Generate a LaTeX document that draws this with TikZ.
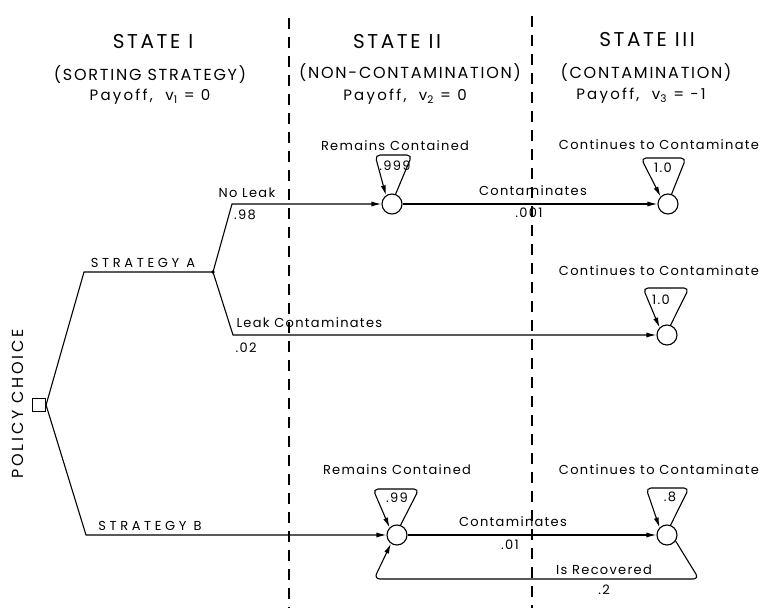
\documentclass[tikz,border=0pt]{standalone}
\usepackage{fontspec}
\setmainfont{Poppins}
\newfontfamily\lf[LetterSpace=10]{Poppins}
\newfontfamily\lfc[LetterSpace=28]{Poppins}
\newfontfamily\lfs[LetterSpace=13]{Poppins}
\newfontfamily\lfp[LetterSpace=11]{Poppins}
\newfontfamily\lfy[LetterSpace=15]{Poppins}
\newfontfamily\lfv[LetterSpace=17]{Poppins}
\usetikzlibrary{arrows.meta,calc}
\begin{document}
\begin{tikzpicture}[x=1pt,y=-1pt, line width=1.1pt,
  lbl/.style={font=\lf\fontsize{13}{15}\selectfont, inner sep=0pt},
  capl/.style={font=\lfc\fontsize{13}{15}\selectfont, inner sep=0pt},
  stt/.style={font=\lfs\fontsize{20}{22}\selectfont, inner sep=0pt},
  hdr/.style={font=\lfp\fontsize{16}{19}\selectfont, inner sep=0pt},
  pay/.style={font=\lfy\fontsize{15}{17}\selectfont, inner sep=0pt},
  vrt/.style={font=\lfv\fontsize{16}{19}\selectfont, inner sep=0pt},
  cnode/.style={circle, draw, minimum size=20pt, inner sep=0pt},
  arr/.style={-{Latex[length=10pt,width=5pt]}},
  sep/.style={dash pattern=on 11pt off 8pt, line width=1.6pt},
  lp/.style={rounded corners=5pt, arr}]
\useasboundingbox (0,0) rectangle (764,608);

% separators
\draw[sep] (289,18) -- (289,608);
\draw[sep] (532,16) -- (532,608);

% headers
\node[stt] (h1) at (153,42) {STATE I};
\node[hdr] (h1b) at (150,75) {(SORTING STRATEGY)};
\node[pay] (h1c) at (150,97) {Payoff,\ \ v\textsubscript{1} = 0};
\node[stt] (h2) at (397,42) {STATE II};
\node[hdr] (h2b) at (410,73) {(NON-CONTAMINATION)};
\node[pay] (h2c) at (405,97) {Payoff,\ \ v\textsubscript{2} = 0};
\node[stt] (h3) at (647,40) {STATE III};
\node[hdr] (h3b) at (646,73) {(CONTAMINATION)};
\node[pay] (h3c) at (641,96) {Payoff,\ \ v\textsubscript{3} = -1};

% decision and chance
\node[draw, minimum size=13pt, inner sep=0pt] (dec) at (39,405) {};
\node[vrt, rotate=90] (pc) at (18,404) {POLICY CHOICE};
\node[circle, fill, inner sep=1.4pt] (ch) at (213,272) {};

% state circles
\node[cnode] (c1) at (392,204) {};
\node[cnode] (c2) at (668,204) {};
\node[cnode] (c3) at (667,335) {};
\node[cnode] (c4) at (397,535) {};
\node[cnode] (c5) at (667,535) {};

% corners
\coordinate (ka) at (84,272);
\coordinate (kb) at (86,535);
\coordinate (kn) at (232,204);
\coordinate (kl) at (233,335);

% branches
\draw (dec.east) -- (ka) -- (ch.center);
\draw[arr] (dec.east) -- (kb) -- (c4.west);
\draw[arr] (ch.center) -- (kn) -- (c1.west);
\draw[arr] (ch.center) -- (kl) -- (c3.west);
\draw[arr] (c1.east) -- (c2.west);
\draw[arr] (c4.east) -- (c5.west);
\draw[rounded corners=6pt, arr] (c5.-35) -- (699,579) -- (374,579) -- (c4.-125);

% self loops
\draw[lp] (c1.70) -- ($(c1)+(20,-49)$) -- ($(c1)+(-17,-49)$) -- (c1.125);
\draw[lp] (c2.70) -- ($(c2)+(18,-46)$) -- ($(c2)+(-27,-46)$) -- (c2.135);
\draw[lp] (c3.70) -- ($(c3)+(22,-47)$) -- ($(c3)+(-24,-47)$) -- (c3.135);
\draw[lp] (c4.70) -- ($(c4)+(22,-46)$) -- ($(c4)+(-24,-46)$) -- (c4.135);
\draw[lp] (c5.70) -- ($(c5)+(22,-47)$) -- ($(c5)+(-21,-47)$) -- (c5.135);

% loop labels
\node[lbl] (p1) at (395,166) {.999};
\node[lbl] (p2) at (663,168) {1.0};
\node[lbl] (p3) at (661,300) {1.0};
\node[lbl] (p4) at (397,498) {.99};
\node[lbl] (p5) at (670,497) {.8};

% branch labels
\node[capl] (sa) at (143,263) {STRATEGY A};
\node[capl] (sb) at (150,526) {STRATEGY B};
\node[lbl] (nl) at (247,193) {No Leak};
\node[lbl] (n98) at (245,215) {.98};
\node[lbl, anchor=west] (lc) at (236,323) {Leak Contaminates};
\node[lbl, anchor=west] (l02) at (235,348) {.02};
\node[lbl] (rc1) at (395,146) {Remains Contained};
\node[lbl] (rc2) at (397,470) {Remains Contained};
\node[lbl] (cc1) at (659,145) {Continues to Contaminate};
\node[lbl] (cc2) at (659,271) {Continues to Contaminate};
\node[lbl] (cc3) at (659,470) {Continues to Contaminate};
\node[lbl] (ct1) at (533,191) {Contaminates};
\node[lbl] (p001) at (529,213) {.001};
\node[lbl] (ct2) at (513,522) {Contaminates};
\node[lbl] (p01) at (510,545) {.01};
\node[lbl] (ir) at (604,570) {Is Recovered};
\node[lbl] (p2b) at (604,590) {.2};
\end{tikzpicture}
\end{document}
